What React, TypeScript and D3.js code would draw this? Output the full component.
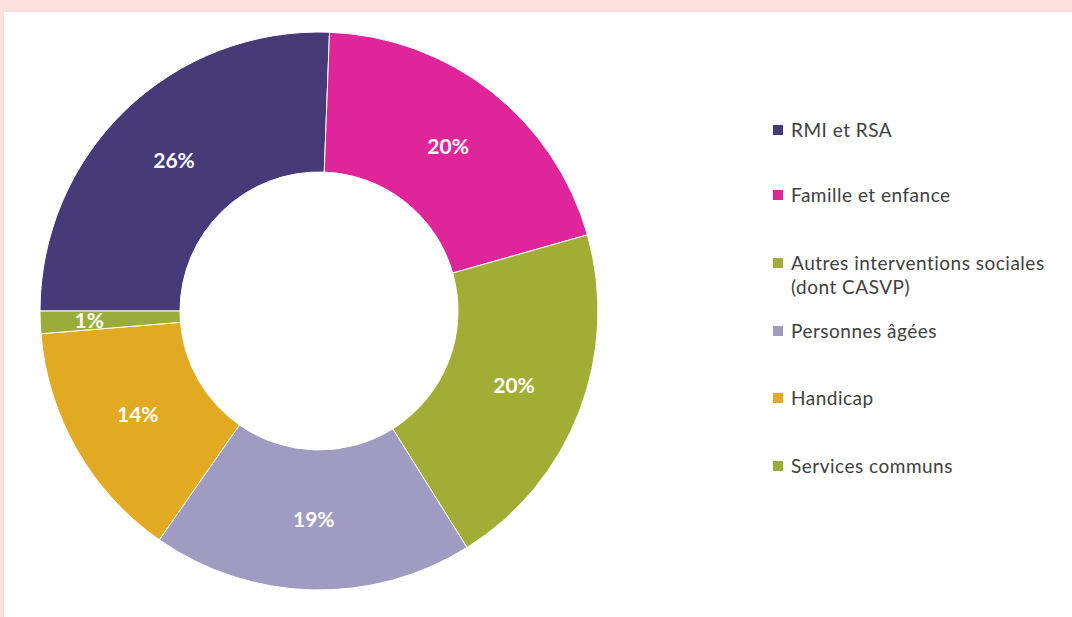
import React from "react";
import * as d3 from "d3";

const categories = [
  "RMI et RSA",
  "Famille et enfance",
  "Autres interventions sociales|(dont CASVP)",
  "Personnes âgées",
  "Handicap",
  "Services communs",
];
const values = [25.6, 20.0, 20.5, 18.6, 14.0, 1.3];
const labels = ["26%", "20%", "20%", "19%", "14%", "1%"];
const colors = ["#463a79", "#e0259a", "#a2ad36", "#a09bc0", "#e2aa22", "#9aac3a"];
const legendY = [130, 195, 263, 331, 398, 466];

export default function App() {
  const W = 1072, H = 617;
  const cx = 319, cy = 311, R = 279, r = 139;
  const pie = d3.pie<number>().sort(null).value((d) => d)
    .startAngle(-Math.PI / 2).endAngle((3 * Math.PI) / 2);
  const arcs = pie(values);
  const arc = d3.arc<d3.PieArcDatum<number>>().innerRadius(r).outerRadius(R);
  const labelArc = d3.arc<d3.PieArcDatum<number>>().innerRadius(r).outerRadius(R);
  const smallArc = d3.arc<d3.PieArcDatum<number>>().innerRadius(180).outerRadius(280);
  const font = "Lato, 'Open Sans', sans-serif";
  return (
    <svg width={W} height={H} style={{ position: "absolute", left: 0, top: 0 }}>
      <rect x={0} y={0} width={W} height={H} fill="#fde0de" />
      <rect x={4} y={12} width={W - 4} height={H - 12} fill="#ffffff" />
      <g transform={`translate(${cx},${cy})`}>
        {arcs.map((a, i) => (
          <path key={i} d={arc(a) || ""} fill={colors[i]} stroke="#ffffff" strokeWidth={1} />
        ))}
        {arcs.map((a, i) => {
          const [x, y] = (values[i] < 3 ? smallArc : labelArc).centroid(a);
          return (
            <text key={i} x={x} y={y} dy="0.35em" textAnchor="middle" fill="#ffffff"
              fontFamily={font} fontWeight="bold" fontSize={21}>
              {labels[i]}
            </text>
          );
        })}
      </g>
      {categories.map((c, i) => {
        const lines = c.split("|");
        return (
          <g key={i}>
            <rect x={773} y={legendY[i] - 5} width={10} height={10} fill={colors[i]} />
            {lines.map((l, j) => (
              <text key={j} x={791} y={legendY[i] + j * 24} dy="0.35em" fill="#404040"
                fontFamily={font} fontSize={19} letterSpacing={0.5}>
                {l}
              </text>
            ))}
          </g>
        );
      })}
    </svg>
  );
}
